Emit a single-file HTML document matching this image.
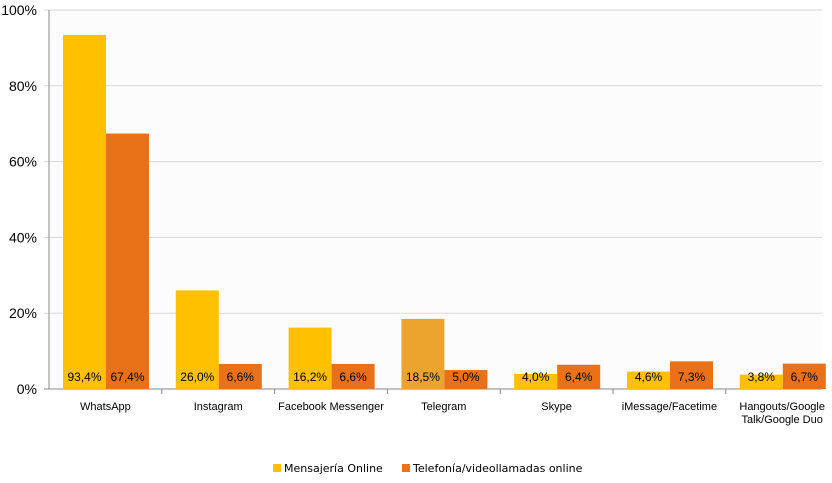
<!DOCTYPE html>
<html><head><meta charset="utf-8"><style>
body{margin:0;background:#fff;width:832px;height:478px;overflow:hidden;font-family:"Liberation Sans",Arial,sans-serif}
</style></head><body>
<svg width="832" height="478" xmlns="http://www.w3.org/2000/svg">
<g id="g"></g>
<g font-family="DejaVu Sans, sans-serif" font-size="11" fill="#000">
<rect x="273" y="464" width="8" height="8" fill="#FFC000"/>
<text x="284" y="472">Mensajería Online</text>
<rect x="402" y="464" width="8" height="8" fill="#EB7118"/>
<text x="413" y="472">Telefonía/videollamadas online</text>
</g>
</svg>
<script>
const categories=["WhatsApp","Instagram","Facebook Messenger","Telegram","Skype","iMessage/Facetime","Hangouts/Google|Talk/Google Duo"];
const mensajeria=[93.4,26.0,16.2,18.5,4.0,4.6,3.8];
const telefonia=[67.4,6.6,6.6,5.0,6.4,7.3,6.7];
const yTicks=[0,20,40,60,80,100];
const NS="http://www.w3.org/2000/svg";
const g=document.getElementById('g');
const X0=49,CW=112.8,Y0=389,Y1=10,XR=822;
const y=v=>Y0-(v/100)*(Y0-Y1);
function mk(t,a,p){const e=document.createElementNS(NS,t);for(const k in a)e.setAttribute(k,a[k]);(p||g).appendChild(e);return e;}
const bg=mk('rect',{x:X0,y:Y1,width:XR-X0,height:Y0-Y1,fill:'#FCFCFC'});


yTicks.forEach(t=>{
 const l=mk('line',{x1:X0-5,x2:XR,y1:y(t),y2:y(t),stroke:t?'#D9D9D9':'#888','stroke-width':1});
 
 
 const tx=mk('text',{x:37,y:y(t)+5,'text-anchor':'end','font-size':14,fill:'#000'});
 tx.textContent=t+'%';
 
 
});
const ax=mk('line',{x1:X0,x2:X0,y1:Y1,y2:Y0,stroke:'#888'});


const fmt=v=>v.toFixed(1).replace('.',',')+'%';
categories.forEach((c,i)=>{
 const cx=X0+i*CW;
 const tk=mk('line',{x1:cx+CW,x2:cx+CW,y1:Y0,y2:Y0+5,stroke:'#888'});
 
 
 [[mensajeria[i],i==3?'#EBA52F':'#FFC000','mensajeria',0],[telefonia[i],'#EB7118','telefonia',43]].forEach(([v,col,s,off])=>{
  const r=mk('rect',{x:cx+14+off,y:y(v),width:43,height:Y0-y(v),fill:col});
  
  
  const t=mk('text',{x:cx+14+off+21.5,y:381,'text-anchor':'middle','font-size':12,fill:'#000'});
  t.textContent=fmt(v);
  
  
 });
 c.split('|').forEach((ln,j)=>{
  const t=mk('text',{x:cx+CW/2,y:410+j*13,'text-anchor':'middle','font-size':11,fill:'#000'});
  t.textContent=ln;
  
  
 });
});
</script>
</body></html>
